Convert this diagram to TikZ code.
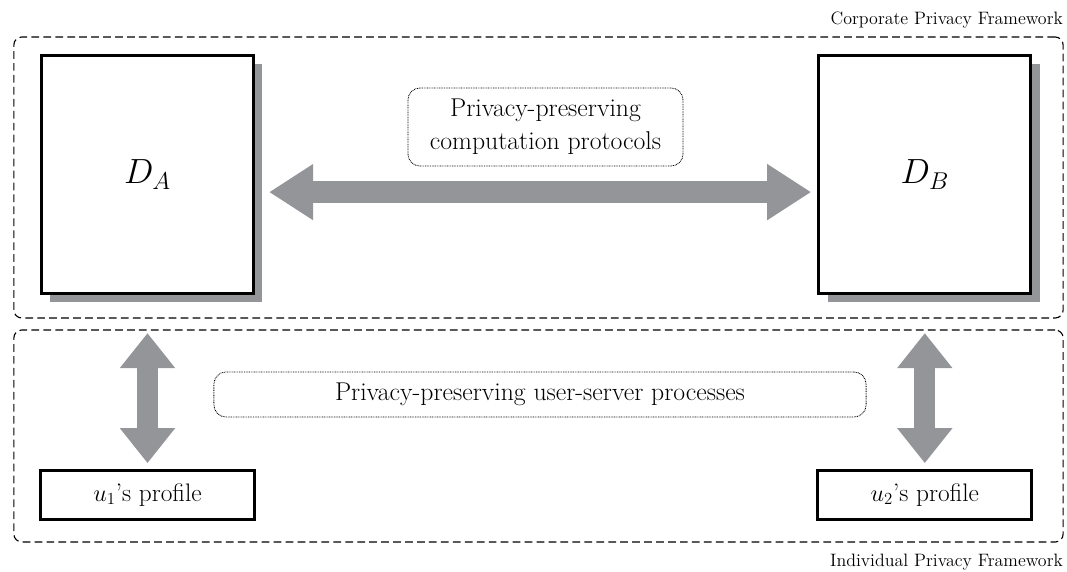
\documentclass[tikz,border=0pt]{standalone}
\usepackage{amsmath,amssymb}
\usepackage{xcolor}
\usepackage{tikz}
\usetikzlibrary{positioning,shadows,arrows.meta}
\definecolor{shadegray}{RGB}{148,149,153}

\tikzset{
  framebox/.style={draw, line width=0.8pt, dash pattern=on 5.5pt off 3pt,
    rounded corners=0.2cm, inner sep=0pt, outer sep=0pt},
  framelabel/.style={inner sep=0pt, font=\fontsize{12.75}{15}\selectfont},
  dbbox/.style={draw, line width=2.2pt, fill=white, minimum width=5.3cm,
    minimum height=5.95cm, font=\fontsize{27}{30}\selectfont,
    drop shadow={shadow xshift=0.22cm, shadow yshift=-0.22cm,
      fill=shadegray, opacity=1}},
  profilebox/.style={draw, line width=2.2pt, fill=white, minimum width=5.35cm,
    minimum height=1.22cm, font=\fontsize{18}{21}\selectfont},
  procbox/.style={draw, line width=0.6pt, dash pattern=on 0.6pt off 0.6pt,
    rounded corners=0.3cm, align=center, inner sep=0pt,
    font=\fontsize{18.3}{23.5}\selectfont},
  widearrow/.style={shadegray, line width=0.55cm,
    arrows={Triangle[length=1.1cm,width=1.325cm]-Triangle[length=1.1cm,width=1.325cm]}},
  tallarrow/.style={shadegray, line width=0.525cm,
    arrows={Triangle[length=0.875cm,width=1.325cm]-Triangle[length=0.875cm,width=1.325cm]}}
}

\begin{document}
\begin{tikzpicture}[x=0.025cm, y=-0.025cm]
  \useasboundingbox (0,0) rectangle (1067,572);
  % frameworks
  \node[framebox, minimum width=26.225cm, minimum height=7.025cm] (corp) at (538.5,177.5) {};
  \node[framebox, minimum width=26.225cm, minimum height=5.3cm] (indiv) at (538.5,436) {};
  \node[framelabel, above left=0.22cm and 0cm of corp.north east] (corplabel) {Corporate Privacy Framework};
  \node[framelabel, below left=0.3cm and 0cm of indiv.south east] (indivlabel) {Individual Privacy Framework};
  % databases and profiles
  \node[dbbox] (DA) at (147.5,174.5) {$D_A$};
  \node[dbbox, right=14.05cm of DA] (DB) {$D_B$};
  \node[profilebox, below=4.34cm of DA] (u1) {$u_1$'s profile};
  \node[profilebox, below=4.34cm of DB] (u2) {$u_2$'s profile};
  % processes
  \node[procbox, minimum width=6.875cm, minimum height=1.95cm] (comp) at (545.5,127)
    {Privacy-preserving\\computation protocols};
  \node[procbox, minimum width=16.3cm, minimum height=1.125cm] (userv) at (540,394.5)
    {Privacy-preserving user-server processes};
  \draw[widearrow, shorten <=0.35cm, shorten >=0.15cm]
    ([yshift=-0.44cm]DA.east) -- ([yshift=-0.44cm]DB.west);
  \draw[tallarrow, shorten <=0.95cm, shorten >=0.14cm] (DA.south) -- (u1.north);
  \draw[tallarrow, shorten <=0.95cm, shorten >=0.14cm] (DB.south) -- (u2.north);
\end{tikzpicture}
\end{document}
